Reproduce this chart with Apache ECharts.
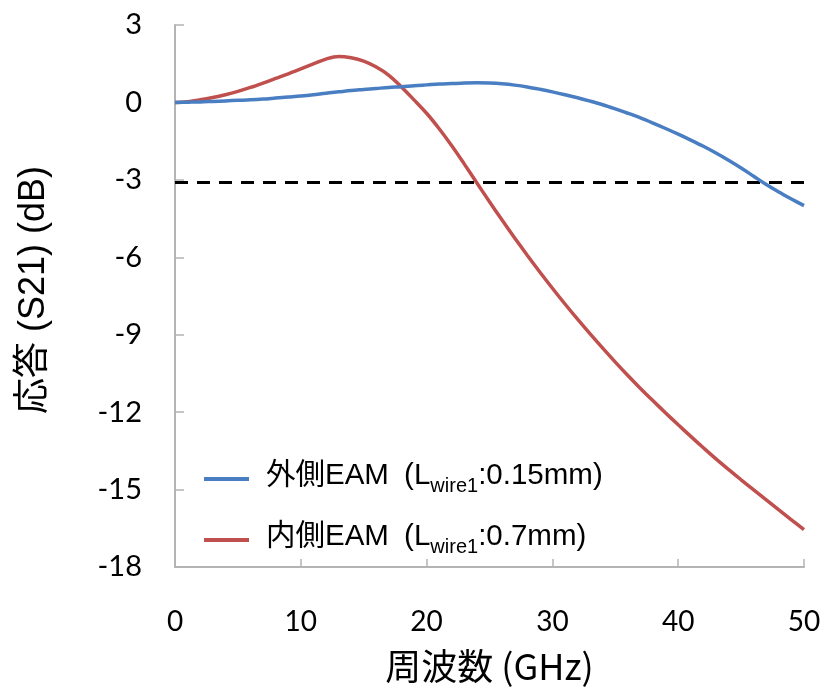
<!DOCTYPE html>
<html>
<head>
<meta charset="utf-8">
<script src="https://cdn.jsdelivr.net/npm/echarts@6/dist/echarts.min.js"></script>
<style>html,body{margin:0;padding:0;background:#fff;}#c{width:826px;height:689px;}</style>
</head>
<body>
<div id="c"></div>
<script>
// Frequency (GHz)
var freq = [0,1,2,3,4,5,6,7,8,9,10,11,12,13,14,15,16,17,18,19,20,21,22,23,24,25,26,27,28,29,30,31,32,33,34,35,36,37,38,39,40,41,42,43,44,45,46,47,48,49,50];
// 外側EAM (Lwire1: 0.15mm) S21 (dB)
var outerEAM = [0,0.01,0.02,0.04,0.06,0.08,0.1,0.13,0.17,0.21,0.25,0.3,0.36,0.41,0.46,0.5,0.54,0.58,0.61,0.65,0.68,0.71,0.73,0.75,0.76,0.75,0.72,0.67,0.6,0.51,0.41,0.3,0.18,0.05,-0.09,-0.25,-0.42,-0.6,-0.8,-1.01,-1.23,-1.46,-1.7,-1.96,-2.24,-2.54,-2.86,-3.18,-3.47,-3.74,-4.0];
// 内側EAM (Lwire1: 0.7mm) S21 (dB)
var innerEAM = [0,0.03,0.1,0.19,0.3,0.43,0.58,0.75,0.93,1.11,1.3,1.49,1.68,1.78,1.73,1.6,1.37,1.05,0.6,0.1,-0.42,-1.02,-1.68,-2.39,-3.12,-3.85,-4.56,-5.25,-5.92,-6.57,-7.2,-7.81,-8.4,-8.97,-9.52,-10.06,-10.58,-11.08,-11.56,-12.03,-12.49,-12.94,-13.38,-13.81,-14.22,-14.62,-15.01,-15.4,-15.79,-16.17,-16.55];
// -3 dB reference line
var refFreq = [0, 50];
var refLevel = [-3.1, -3.1];
var seriesNames = ['外側EAM (Lwire1:0.15mm)', '内側EAM (Lwire1:0.7mm)'];
var legendParts = [['外側EAM ', '(L', 'wire1', ':0.15mm)'], ['内側EAM ', '(L', 'wire1', ':0.7mm)']];
var xTitle = '周波数 (GHz)';
var yTitle = '応答 (S21) (dB)';

function pairs(xs, ys) { return xs.map(function (x, i) { return [x, ys[i]]; }); }

var chart = echarts.init(document.getElementById('c'));
chart.setOption({
  animation: false,
  backgroundColor: '#fff',
  grid: { left: 175, right: 22, top: 25, bottom: 121, containLabel: false },
  legend: {
    orient: 'vertical',
    left: 204,
    top: 461,
    padding: 0,
    itemWidth: 45,
    itemHeight: 4,
    itemGap: 26,
    icon: 'rect',
    data: seriesNames,
    formatter: function (name) {
      var p = legendParts[seriesNames.indexOf(name)];
      return '{a|' + p[0] + '}{b|' + p[1] + '}{s|' + p[2] + '}{a|' + p[3] + '}';
    },
    textStyle: {
      rich: {
        a: { fontFamily: '"Liberation Sans","Noto Sans CJK JP",sans-serif', fontSize: 29.5, color: '#000', lineHeight: 34, padding: [0, 0, 5, 0], verticalAlign: 'bottom' },
        b: { fontFamily: '"Liberation Sans",sans-serif', fontSize: 29.5, color: '#000', lineHeight: 34, padding: [0, 0, 5, 7], verticalAlign: 'bottom' },
        s: { fontFamily: '"Liberation Sans",sans-serif', fontSize: 20, color: '#000', lineHeight: 34, verticalAlign: 'bottom' }
      },
      padding: [0, 0, 0, 12]
    }
  },
  xAxis: {
    type: 'value', min: 0, max: 50, interval: 10,
    name: xTitle, nameLocation: 'middle', nameGap: 81,
    nameTextStyle: { fontFamily: '"Noto Sans CJK JP",sans-serif', fontSize: 36, color: '#000' },
    axisLine: { show: true, onZero: false, lineStyle: { color: '#b4b4b4', width: 2 } },
    axisTick: { show: true, inside: true, length: 8, lineStyle: { color: '#b4b4b4', width: 1.5 } },
    axisLabel: { margin: 41, fontFamily: 'Lato, "Liberation Sans", sans-serif', fontSize: 28, color: '#000' },
    splitLine: { show: false }
  },
  yAxis: {
    type: 'value', min: -18, max: 3, interval: 3,
    name: yTitle, nameLocation: 'middle', nameGap: 123, nameRotate: 90,
    nameTextStyle: { fontFamily: '"Liberation Sans","Noto Sans CJK JP",sans-serif', fontSize: 36, color: '#000', padding: [0, 0, 0, 12] },
    axisLine: { show: true, onZero: false, lineStyle: { color: '#b4b4b4', width: 2 } },
    axisTick: { show: true, inside: true, length: 9, lineStyle: { color: '#b4b4b4', width: 1.5 } },
    axisLabel: { margin: 33, fontFamily: 'Lato, "Liberation Sans", sans-serif', fontSize: 29, color: '#000' },
    splitLine: { show: false }
  },
  series: [
    {
      name: 'ref', type: 'line', data: pairs(refFreq, refLevel), symbol: 'none',
      lineStyle: { color: '#000', width: 3, type: [13, 9] }, silent: true, z: 1
    },
    {
      name: seriesNames[0], type: 'line', data: pairs(freq, outerEAM), symbol: 'none', smooth: 0.35,
      itemStyle: { color: '#4A7EC2' }, lineStyle: { color: '#4A7EC2', width: 3.5 }, z: 3
    },
    {
      name: seriesNames[1], type: 'line', data: pairs(freq, innerEAM), symbol: 'none', smooth: 0.35,
      itemStyle: { color: '#C0504D' }, lineStyle: { color: '#C0504D', width: 3.5 }, z: 2
    }
  ]
});
</script>
</body>
</html>
